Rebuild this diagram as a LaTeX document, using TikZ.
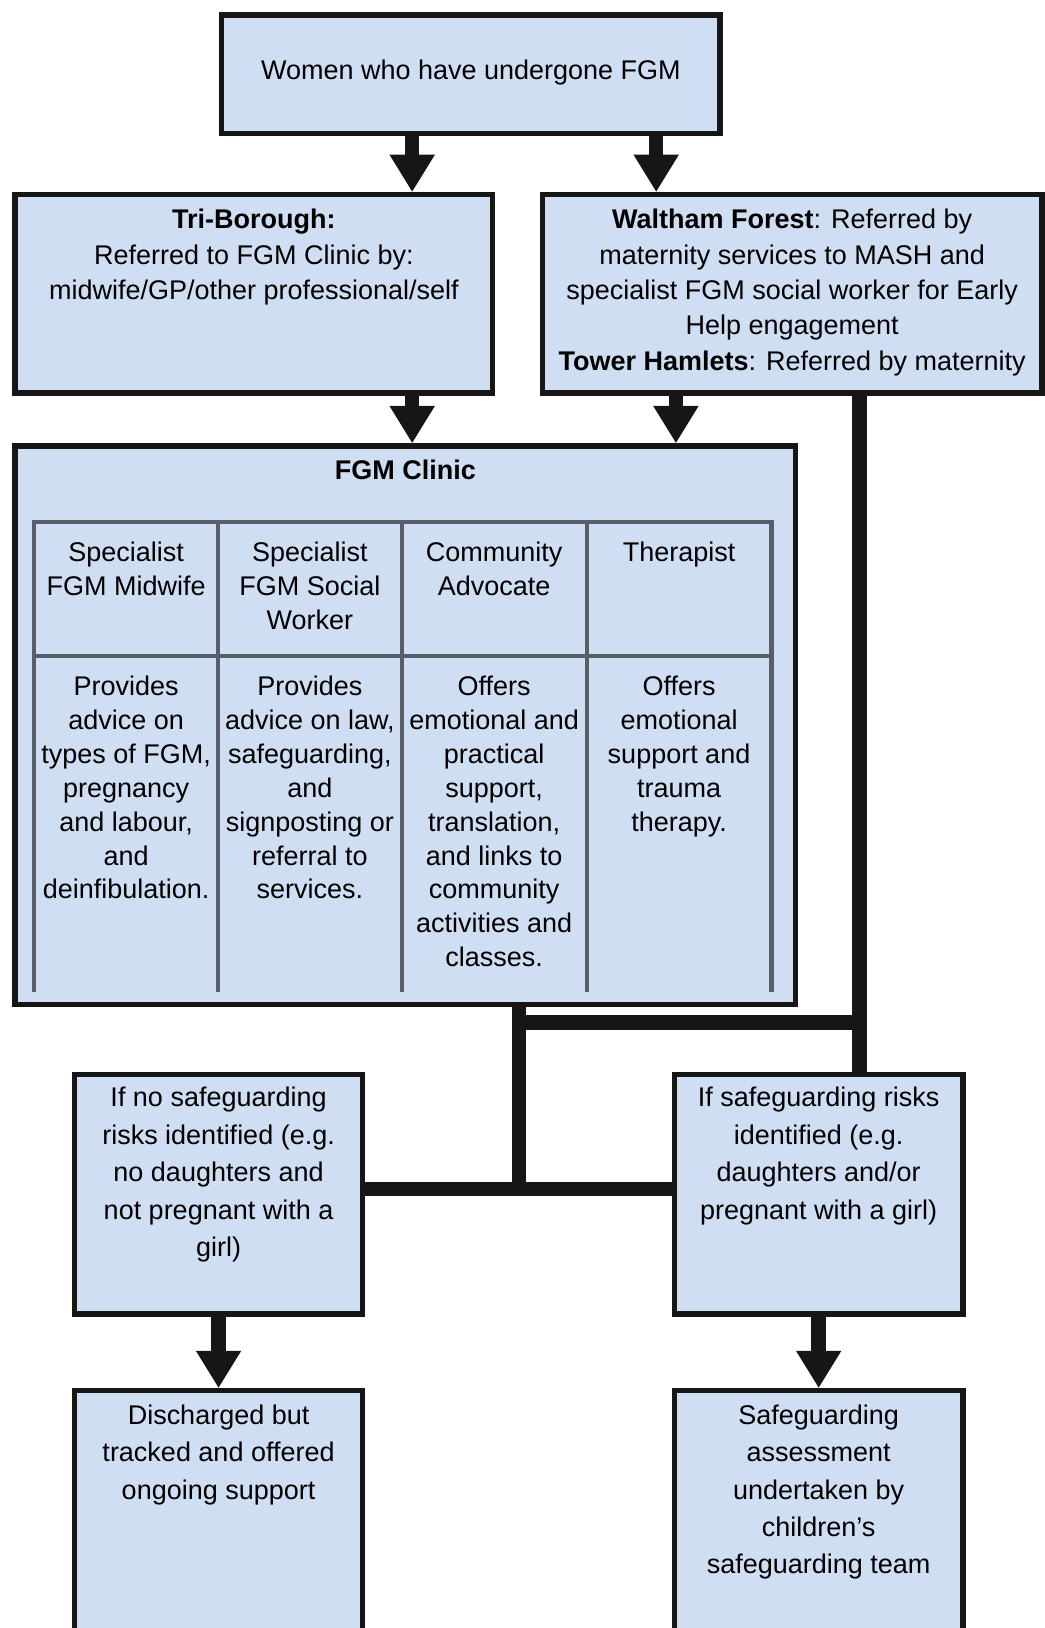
\documentclass[tikz,border=0pt]{standalone}
\usepackage{fontspec}
\setmainfont{Liberation Sans}
\usetikzlibrary{arrows.meta}
\definecolor{boxblue}{RGB}{208,222,243}
\definecolor{ink}{RGB}{22,22,22}
\definecolor{rulegray}{RGB}{88,93,104}
\tikzstyle{box}=[draw=ink, fill=boxblue, line width=2.5pt, inner sep=0pt, anchor=north west]
\tikzstyle{cell}=[inner sep=0pt, anchor=north, align=center, font=\fontsize{13}{16.3}\selectfont]
\tikzset{flow/.style={draw=ink, line width=7pt, -{Triangle[width=20.5pt,length=18pt]}},
  link/.style={draw=ink, line width=7pt},
  tablerule/.style={draw=rulegray, line width=2pt}}
\newcommand{\boxtxt}[5][4.6pt]{\parbox[c][#3][t]{#2}{\centering\fontsize{13}{#4}\selectfont\vspace*{#1}\strut #5}}

\begin{document}
\begin{tikzpicture}[x=0.5pt, y=-0.5pt]
  \useasboundingbox (0,0) rectangle (1006,1568);

  \node[box] (women) at (211,12) {\boxtxt[19.3pt]{240pt}{57pt}{17pt}{Women who have undergone FGM}};
  \node[box] (tri) at (12,185) {\boxtxt{230pt}{95.5pt}{17pt}{\textbf{Tri-Borough:}\\Referred to FGM Clinic by:\\midwife/GP/other professional/self}};
  \node[box] (wf) at (520,185) {\boxtxt{240.5pt}{95.5pt}{17pt}{\textbf{Waltham Forest}: Referred by\\maternity services to MASH and\\specialist FGM social worker for Early\\Help engagement\\\textbf{Tower Hamlets}: Referred by maternity}};
  \node[box] (clinic) at (12,427) {\boxtxt[4.2pt]{376pt}{269pt}{17pt}{\textbf{FGM Clinic}}};
  \node[box] (nosafe) at (69,1032) {\boxtxt[3.2pt]{139pt}{115.5pt}{18pt}{If no safeguarding\\risks identified (e.g.\\no daughters and\\not pregnant with a\\girl)}};
  \node[box] (safe) at (647,1032) {\boxtxt[3.2pt]{139pt}{115.5pt}{18pt}{If safeguarding risks\\identified (e.g.\\daughters and/or\\pregnant with a girl)}};
  \node[box] (disch) at (69,1337) {\boxtxt[3.6pt]{139pt}{125pt}{18pt}{Discharged but\\tracked and offered\\ongoing support}};
  \node[box] (assess) at (647,1337) {\boxtxt[3.6pt]{139pt}{125pt}{18pt}{Safeguarding\\assessment\\undertaken by\\children’s\\safeguarding team}};

  \draw[tablerule] (33,955) -- (33,503) -- (743,503) -- (743,955);
  \draw[tablerule] (33,632) -- (743,632);
  \foreach \x in {210,387,565}
    \draw[tablerule] (\x,503) -- (\x,955);

  \node[cell] (midwife) at (121.5,518) {\strut Specialist\\FGM Midwife};
  \node[cell] (social) at (298.5,518) {\strut Specialist\\FGM Social\\Worker};
  \node[cell] (advocate) at (476,518) {\strut Community\\Advocate};
  \node[cell] (therapist) at (654,518) {\strut Therapist};
  \node[cell] (midwifetxt) at (121.5,647) {\strut Provides\\advice on\\types of FGM,\\pregnancy\\and labour,\\and\\deinfibulation.};
  \node[cell] (socialtxt) at (298.5,647) {\strut Provides\\advice on law,\\safeguarding,\\and\\signposting or\\referral to\\services.};
  \node[cell] (advocatetxt) at (476,647) {\strut Offers\\emotional and\\practical\\support,\\translation,\\and links to\\community\\activities and\\classes.};
  \node[cell] (therapisttxt) at (654,647) {\strut Offers\\emotional\\support and\\trauma\\therapy.};

  \coordinate (xa) at (397,0);
  \coordinate (xb) at (632,0);
  \coordinate (xc) at (651,0);
  \coordinate (xd) at (828,0);
  \coordinate (split) at (500,1145);
  \coordinate (knee) at (500,985);

  \draw[flow] (women.south -| xa) -- (tri.north -| xa);
  \draw[flow] (women.south -| xb) -- (wf.north -| xb);
  \draw[flow] (tri.south -| xa) -- (clinic.north -| xa);
  \draw[flow] (wf.south -| xc) -- (clinic.north -| xc);
  \draw[link] (wf.south -| xd) -- (safe.north -| xd);
  \draw[link] (clinic.south -| split) -- (split);
  \draw[link] (nosafe.east |- split) -- (safe.west |- split);
  \draw[link, line cap=rect] (knee) -- (knee -| xd);
  \draw[flow] (nosafe.south) -- (disch.north);
  \draw[flow] (safe.south) -- (assess.north);
\end{tikzpicture}
\end{document}
